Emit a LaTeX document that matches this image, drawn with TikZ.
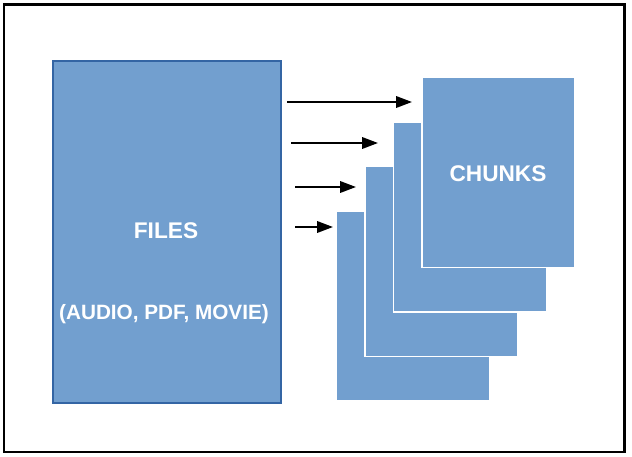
\documentclass[tikz,border=0pt]{standalone}
\usepackage{fontspec}
\setmainfont{Liberation Sans}
\usetikzlibrary{arrows.meta}
\definecolor{boxblue}{HTML}{729FCF}
\definecolor{edgeblue}{HTML}{3465A4}
\begin{document}
\begin{tikzpicture}[scale=0.2,
    label text/.style={text=white, font=\fontsize{12.9}{15}\selectfont\bfseries},
    small text/.style={text=white, font=\fontsize{11.8}{14}\selectfont\bfseries},
    file box/.style={draw=edgeblue, line width=0.6pt, fill=boxblue, minimum width=4.56cm, minimum height=6.84cm},
    chunk box/.style={draw=white, line width=0.85pt, fill=boxblue, minimum width=3.06cm, minimum height=3.8cm},
    push/.style={black, line width=1.1pt, -{Triangle[length=9pt,width=6.5pt]}}]
            \tikzstyle{every node}+=[inner sep=0pt]
                \useasboundingbox (0,0) rectangle (63.2,-45.6);
                \draw [black, line width=1.4pt] (0.38,-0.45) rectangle (62.45,-45.2);
                \node [file box] (files) at (16.7,-23.2) {};
                \node [label text] (filesname) at (16.6,-23.1) {FILES};
                \node [small text] (filestypes) at (16.4,-31.4) {(AUDIO, PDF, MOVIE)};
                % chunks, back to front
                \node [chunk box] (chunka) at (41.3,-30.6) {};
                \node [chunk box] (chunkb) at (44.15,-26.15) {};
                \node [chunk box] (chunkc) at (47.0,-21.7) {};
                \node [chunk box] (chunkd) at (49.85,-17.25) {};
                \node [label text] (chunksname) at (49.8,-17.4) {CHUNKS};
                % arrows
                \coordinate (sa) at (28.7,-10.2);
                \coordinate (ea) at (41.2,-10.2);
                \coordinate (sb) at (29.1,-14.3);
                \coordinate (eb) at (37.8,-14.3);
                \coordinate (sc) at (29.5,-18.7);
                \coordinate (ec) at (35.6,-18.7);
                \coordinate (sd) at (29.5,-22.7);
                \coordinate (ed) at (33.3,-22.7);
                \draw [push] (sa) -- (ea);
                \draw [push] (sb) -- (eb);
                \draw [push] (sc) -- (ec);
                \draw [push] (sd) -- (ed);
            \end{tikzpicture}
\end{document}
